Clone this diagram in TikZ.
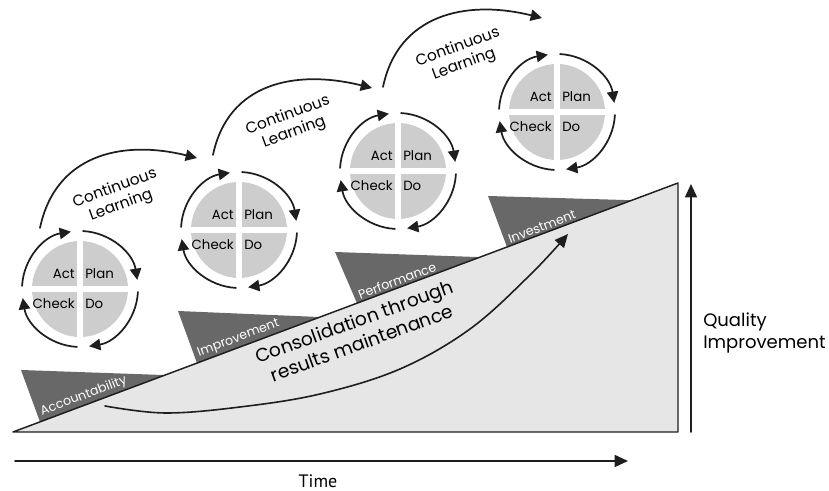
\documentclass[tikz,border=0pt]{standalone}
\usepackage{fontspec}
\setmainfont{Poppins}
\newfontfamily\timefont{PT Sans}
\usetikzlibrary{arrows.meta,calc}
\definecolor{wedgegray}{HTML}{E6E6E6}
\definecolor{tabgray}{HTML}{686868}
\definecolor{diskgray}{HTML}{CDCDCD}
\definecolor{inkgray}{HTML}{1E1E1E}
\begin{document}
\begin{tikzpicture}[x=0.75pt, y=0.75pt, line join=round, line cap=round,
	cyc/.style={line width=1.3pt, draw=inkgray, -{Triangle[length=8.5pt,width=8.5pt]}},
	bigarrow/.style={line width=1.2pt, draw=inkgray, -{Triangle[length=10pt,width=9pt]}},
	quad/.style={font=\fontsize{10}{12}\selectfont, inner sep=0pt},
	tablabel/.style={text=white, font=\fontsize{9.5}{11}\selectfont, rotate=20.53, anchor=south west, inner sep=1.5pt},
	learn/.style={font=\fontsize{11.5}{13.5}\selectfont, align=center, rotate=20}]
	\useasboundingbox (0,0) rectangle (829,491);
	\path
	(13,59) coordinate (A)
	(678,59) coordinate (B)
	(678,308) coordinate (C);
	\foreach \tx/\ty/\xl/\xr/\lbl in {21/121/40/165/Accountability, 178/180/197/320/Improvement, 335/239/357/480/Performance, 488/295/507/632/Investment}{
		\fill[tabgray] (\tx,\ty) -- ($(A)!{(\xl-13)/665}!(C)$) -- ($(A)!{(\xr-13)/665}!(C)$) -- cycle;
		\node[tablabel] (lbl-\lbl) at ($(A)!{(\xl-11)/665}!(C)$) {\lbl};
	}
	\draw[fill=wedgegray, draw=inkgray, line width=1.1pt] (A) -- (B) -- (C) -- cycle;
	\node[font=\fontsize{14}{17}\selectfont, align=center, rotate=20] (consol) at (358,159) {Consolidation through\\results maintenance};
	\draw[bigarrow] plot[smooth, tension=0.6] coordinates {(105,85) (165,78) (240,84) (320,97) (400,122) (470,162) (530,216) (568,257)};
	
	\foreach \i in {0,...,3}{
		\coordinate (c\i) at ({80+159*\i},{202+59*\i});
		\fill[diskgray] (c\i) circle (48);
		\draw[white, line width=4pt, line cap=butt] ($(c\i)+(-50,0)$) -- ($(c\i)+(50,0)$) ($(c\i)+(0,-50)$) -- ($(c\i)+(0,50)$);
		\foreach \a in {87,-3,-93,177}
		\draw[cyc] ($(c\i)+(\a:58)$) arc[start angle=\a, end angle=\a-78, radius=58];
		\node[quad, anchor=east] (act\i) at ($(c\i)+(-5,15)$) {Act};
		\node[quad, anchor=west] (plan\i) at ($(c\i)+(5,15)$) {Plan};
		\node[quad, anchor=east] (check\i) at ($(c\i)+(-5,-15)$) {Check};
		\node[quad, anchor=west] (do\i) at ($(c\i)+(5,-15)$) {Do};
	}
	
	\foreach \j/\sx/\sy/\ex/\ey in {1/40/263/197/333, 2/213/336/372/403, 3/383/404/542/473}{
		\coordinate (ls\j) at (\sx,\sy);
		\coordinate (le\j) at (\ex,\ey);
		\draw[cyc] (ls\j) .. controls +(15,72) and +(-77,19) .. (le\j);
		\node[learn] (learn\j) at ($(ls\j)+(78,31)$) {Continuous\\Learning};
	}
	
	\path (691,59) coordinate (qb) (691,307) coordinate (qt)
	(15,30) coordinate (tl) (628,30) coordinate (tr);
	\draw[bigarrow] (qb) -- (qt);
	\draw[bigarrow] (tl) -- (tr);
	\node[anchor=west, align=left, inner sep=0pt, font=\fontsize{13.5}{17}\selectfont] (quality) at (703,158) {Quality\\Improvement};
	\node[font=\timefont\fontsize{13.5}{15}\selectfont] (time) at (318,10) {Time};
\end{tikzpicture}
\end{document}
